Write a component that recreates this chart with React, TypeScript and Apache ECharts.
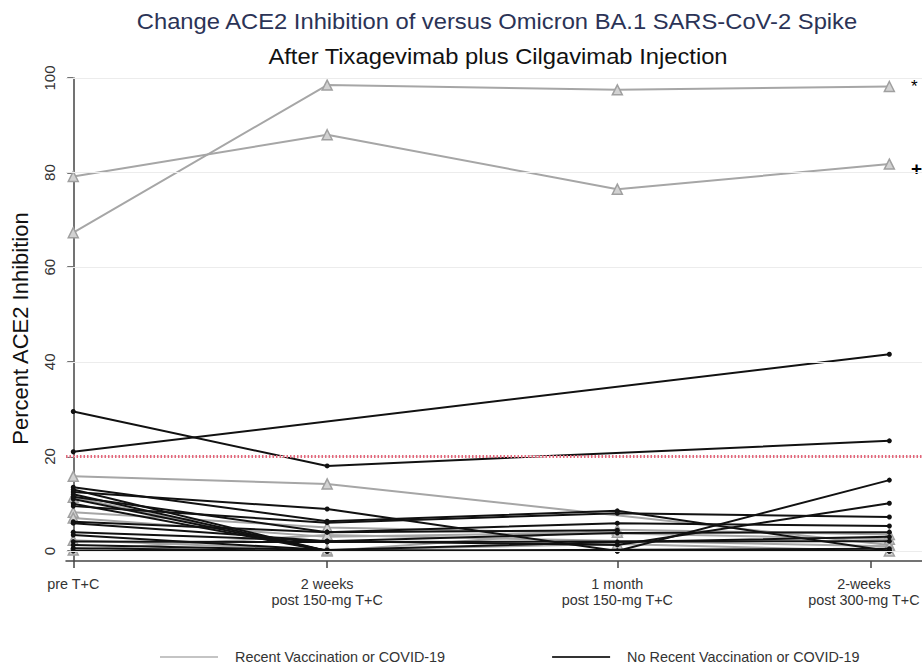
import React, { useEffect, useRef } from "react";
import * as echarts from "echarts";

const TITLE = "Change ACE2 Inhibition of versus Omicron BA.1 SARS-CoV-2 Spike";
const SUBTITLE = "After Tixagevimab plus Cilgavimab Injection";
const Y_NAME = "Percent ACE2 Inhibition";
const TIME_DAYS = [0, 14, 30, 45];
const TICK_DAYS = [0, 14, 30, 44];
const LABEL_DAYS = [0, 14, 30, 43.6];
const TICK_LABELS = [
  "pre T+C",
  "2 weeks\npost 150-mg T+C",
  "1 month\npost 150-mg T+C",
  "2-weeks\npost 300-mg T+C",
];
const Y_TICKS = [0, 20, 40, 60, 80, 100];
const THRESHOLD = 20;
const GROUP_RECENT = "Recent Vaccination or COVID-19";
const GROUP_NO_RECENT = "No Recent Vaccination or COVID-19";

// values at [pre, 2 weeks, 1 month, 2-weeks post 300 mg]; null = not measured
const RECENT: (number | null)[][] = [
  [67.3, 98.5, 97.5, 98.2],
  [79.2, 88.0, 76.5, 81.8],
  [15.8, 14.2, null, 1.3],
  [11.4, 0.0, 4.5, 3.5],
  [8.2, 5.0, null, 2.5],
  [7.0, 3.0, 4.0, null],
  [2.3, 0.2, 1.5, 0.0],
  [0.2, 3.4, null, 1.0],
];
const RECENT_ANNOTATIONS = ["*", "+"];

const NO_RECENT: (number | null)[][] = [
  [21.0, null, null, 41.6],
  [29.5, 18.0, null, 23.3],
  [12.5, 8.9, 0.0, 15.0],
  [13.5, 6.3, 8.5, 0.0],
  [13.0, 0.0, null, null],
  [12.0, 0.0, null, null],
  [11.0, 0.0, null, null],
  [10.0, 0.0, null, null],
  [9.5, 6.0, 8.0, 7.2],
  [6.2, 4.0, 5.9, 5.3],
  [5.9, 2.1, 1.3, 10.1],
  [4.0, 2.1, 3.8, 4.0],
  [3.4, 0.2, 1.9, 3.0],
  [2.0, 1.9, null, 2.1],
  [1.3, 0.2, 0.0, 0.0],
  [0.6, 0.0, 0.0, 0.0],
  [11.5, 4.0, 4.4, null],
  [0.0, 0.0, null, 0.5],
];

const FONT = "'Liberation Sans', Arial, sans-serif";

function toPoints(row: (number | null)[]) {
  const pts: any[] = [];
  row.forEach((v, i) => {
    if (v !== null) pts.push([TIME_DAYS[i], v]);
  });
  return pts;
}

export default function App() {
  const ref = useRef<HTMLDivElement>(null);
  useEffect(() => {
    if (!ref.current) return;
    const chart = echarts.init(ref.current, undefined, { renderer: "svg" });

    const graySeries = RECENT.map((row, si) => {
      const pts = toPoints(row).map((p, pi, arr) => {
        if (pi === arr.length - 1 && RECENT_ANNOTATIONS[si]) {
          const isPlus = RECENT_ANNOTATIONS[si] === "+";
          return {
            value: p,
            label: {
              show: true,
              position: "right",
              distance: 16,
              offset: [0, isPlus ? 4 : 0],
              formatter: RECENT_ANNOTATIONS[si],
              color: "#000",
              fontSize: isPlus ? 19 : 17,
              fontWeight: isPlus ? "bold" : "normal",
              fontFamily: FONT,
            },
          };
        }
        return { value: p };
      });
      return {
        type: "line",
        name: GROUP_RECENT,
        data: pts,
        symbol: "triangle",
        symbolSize: 10,
        lineStyle: { color: "#a6a6a6", width: 2 },
        itemStyle: { color: "#d2d2d2", borderColor: "#a0a0a0", borderWidth: 1.5 },
        z: 2,
      };
    });

    const blackSeries = NO_RECENT.map((row) => ({
      type: "line",
      name: GROUP_NO_RECENT,
      data: toPoints(row),
      symbol: "circle",
      symbolSize: 5,
      lineStyle: { color: "#111", width: 2 },
      itemStyle: { color: "#111" },
      z: 3,
    }));

    const refSeries = {
      type: "line",
      data: [],
      silent: true,
      markLine: {
        silent: true,
        symbol: "none",
        label: { show: false },
        data: [
          ...Y_TICKS.map((v) => ({
            yAxis: v,
            lineStyle: { color: "#ececec", width: 1, type: "solid" },
          })),
          {
            yAxis: THRESHOLD,
            lineStyle: { color: "#e3667a", width: 3, type: [1.5, 2] },
          },
        ],
      },
      z: 1,
    };

    chart.setOption({
      animation: false,
      backgroundColor: "#fff",
      textStyle: { fontFamily: FONT },
      graphic: [
        {
          type: "text",
          x: 497,
          y: 21,
          scaleX: 1.08,
          style: {
            text: TITLE,
            align: "center",
            verticalAlign: "middle",
            fill: "#2b3356",
            fontSize: 22,
            fontFamily: FONT,
          },
        },
        {
          type: "text",
          x: 498,
          y: 56,
          scaleX: 1.08,
          style: {
            text: SUBTITLE,
            align: "center",
            verticalAlign: "middle",
            fill: "#111",
            fontSize: 22,
            fontFamily: FONT,
          },
        },
      ],
      legend: {
        left: 155,
        top: 645,
        itemWidth: 58,
        itemHeight: 2,
        itemGap: 107,
        icon: "rect",
        selectedMode: false,
        textStyle: { fontSize: 14.4, color: "#333", fontFamily: FONT, padding: [0, 0, 0, 12] },
        data: [
          { name: GROUP_RECENT, icon: "rect", itemStyle: { color: "#c4c4c4", borderWidth: 0 } },
          { name: GROUP_NO_RECENT, icon: "rect", itemStyle: { color: "#333", borderWidth: 0 } },
        ],
      },
      grid: {
        left: 66,
        right: 0,
        top: 78,
        bottom: 103,
        containLabel: false,
        outerBoundsMode: "none",
      },
      xAxis: {
        type: "value",
        min: -0.4,
        max: 46.8,
        splitLine: { show: false },
        axisLine: { show: true, onZero: false, lineStyle: { color: "#444", width: 1.5 } },
        axisTick: {
          show: true,
          length: 7,
          customValues: TICK_DAYS,
          lineStyle: { color: "#444", width: 1.5 },
        },
        axisLabel: {
          customValues: LABEL_DAYS,
          formatter: (v: number) => TICK_LABELS[LABEL_DAYS.indexOf(v)] ?? "",
          fontSize: 14.4,
          color: "#333",
          lineHeight: 16,
          margin: 15,
          fontFamily: FONT,
        },
      },
      yAxis: {
        type: "value",
        min: -2.1,
        max: 100,
        name: Y_NAME,
        nameLocation: "middle",
        nameRotate: 90,
        nameGap: 35,
        nameTextStyle: { fontSize: 22, color: "#111", fontFamily: FONT, padding: [0, 18, 0, 0] },
        splitLine: { show: false },
        axisLine: { show: true, lineStyle: { color: "#444", width: 1.5 } },
        axisTick: {
          show: true,
          length: 6,
          customValues: Y_TICKS,
          lineStyle: { color: "#444", width: 1.5 },
        },
        axisLabel: {
          customValues: Y_TICKS,
          rotate: 90,
          fontSize: 15,
          color: "#333",
          margin: 9,
          fontFamily: FONT,
        },
      },
      series: [refSeries, ...graySeries, ...blackSeries],
    });

    return () => chart.dispose();
  }, []);

  return (
    <div
      ref={ref}
      style={{ position: "absolute", left: 0, top: 0, width: 922, height: 664 }}
    />
  );
}
